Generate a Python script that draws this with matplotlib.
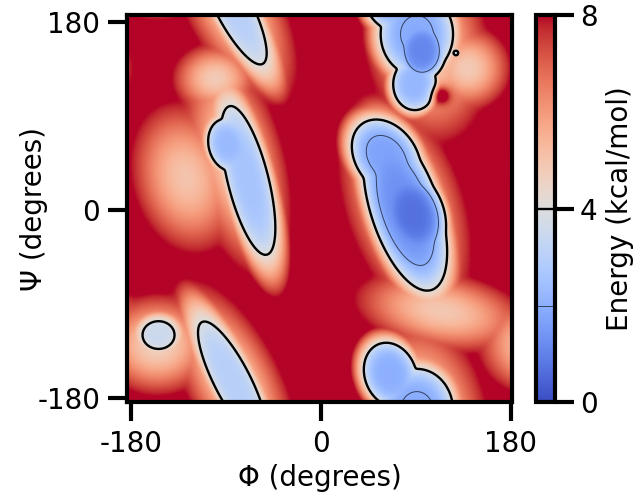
import numpy as np
import matplotlib
matplotlib.use('Agg')
import matplotlib.pyplot as plt

# basins: phi, psi, sigma along axis, sigma across, axis angle, depth
core_phi = [-69, -88, -84, -154, 80, 88, 62, 91, 89, 66, 96, 128]
core_psi = [3 + 25, 62, -164, -120, 0, -5, 50, 168, 120, -158, 152, 150]
core_sa = [91, 30, 85, 24, 87, 45, 44, 45, 29, 36, 30, 5]
core_sb = [24, 22, 23, 21, 35, 30, 32, 39, 24, 28, 24, 5]
core_ang = [-76, -76, -63, 0, -72, -72, -55, 90, 90, -70, 90, 0]
core_depth = [2.6, 2.3, 3.0, 3.5, 1.3, 0.7, 1.7, 1.9, 2.2, 2.0, 1.1, 3.85]

# broad shoulders around the basins (orange halo)
halo_phi = [-80, -128, -84, -155, 80, 100, 140, 115, -100]
halo_psi = [45, 30, -164, -130, 3, 160, 135, -98, 125]
halo_sa = [80, 55, 75, 40, 80, 70, 30, 62, 30]
halo_sb = [33, 38, 32, 35, 40, 42, 30, 28, 25]
halo_ang = [-76, -76, -63, 0, -72, 100, 0, -10, 0]
halo_depth = [4.6, 5.0, 4.6, 4.6, 4.6, 4.6, 4.8, 4.9, 4.8]

# small high-energy spot
bump_phi = [115]
bump_psi = [109]
bump_sig = [6]
bump_h = [3.0]

base = 10.0
emax = 8.0
xlim = (-183.5, 181.5)
ylim = (-184.5, 186.5)

phi = np.linspace(xlim[0], xlim[1], 366)
psi = np.linspace(ylim[0], ylim[1], 372)
P, S = np.meshgrid(phi, psi)


def wrap(d):
    return (d + 180) % 360 - 180


def well(p0, s0, sa, sb, ang, depth, power):
    dp = wrap(P - p0)
    ds = wrap(S - s0)
    a = np.deg2rad(ang)
    u = dp*np.cos(a) + ds*np.sin(a)
    v = -dp*np.sin(a) + ds*np.cos(a)
    r2 = (u/sa)**2 + (v/sb)**2
    return (base - depth)*np.exp(-0.5*r2**(power/2))


# smooth max over the well deficits
T = 0.15
acc = np.zeros_like(P)
for args in zip(core_phi, core_psi, core_sa, core_sb, core_ang, core_depth):
    acc += np.expm1(well(*args, 4)/T)
for args in zip(halo_phi, halo_psi, halo_sa, halo_sb, halo_ang, halo_depth):
    acc += np.expm1(well(*args, 2)/T)
E = base - T*np.log1p(acc)
for p0, s0, sg, h in zip(bump_phi, bump_psi, bump_sig, bump_h):
    E += h*np.exp(-0.5*((wrap(P - p0)/sg)**2 + (wrap(S - s0)/sg)**2))
E = np.clip(E, 0, emax)

plt.rcParams.update({
    'font.family': 'DejaVu Sans',
    'font.size': 20,
    'axes.linewidth': 3,
    'axes.unicode_minus': False,
})
fig = plt.figure(figsize=(6.34, 4.95), dpi=100)
ax = fig.add_axes([0.201, 0.187, 0.607, 0.783])
cax = fig.add_axes([0.846, 0.187, 0.029, 0.783])

im = ax.imshow(E, origin='lower', extent=(*xlim, *ylim), cmap='coolwarm',
               vmin=0, vmax=emax, aspect='auto', interpolation='bilinear')
cs = ax.contour(P, S, E, levels=[2, 4], colors=['#33415e', 'black'],
                linewidths=[0.7, 1.7])
ax.set_xlim(xlim)
ax.set_ylim(ylim)
ax.set_xticks([-180, 0, 180])
ax.set_yticks([-180, 0, 180])
ax.tick_params(axis='both', length=13.5, width=3, labelsize=20, pad=6)
ax.set_xlabel('Φ (degrees)', fontsize=20)
ax.set_ylabel('Ψ (degrees)', fontsize=20)
ax.xaxis.set_label_coords(0.5, -0.158)
ax.yaxis.set_label_coords(-0.206, 0.5)

cb = fig.colorbar(im, cax=cax, ticks=[0, 4, 8])
cb.add_lines(cs)
cb.outline.set_linewidth(3)
cb.ax.tick_params(length=14, width=3, labelsize=20, pad=4)
cb.set_label('Energy (kcal/mol)', fontsize=20, labelpad=6)

plt.savefig('out.png', dpi=100)
plt.close()
